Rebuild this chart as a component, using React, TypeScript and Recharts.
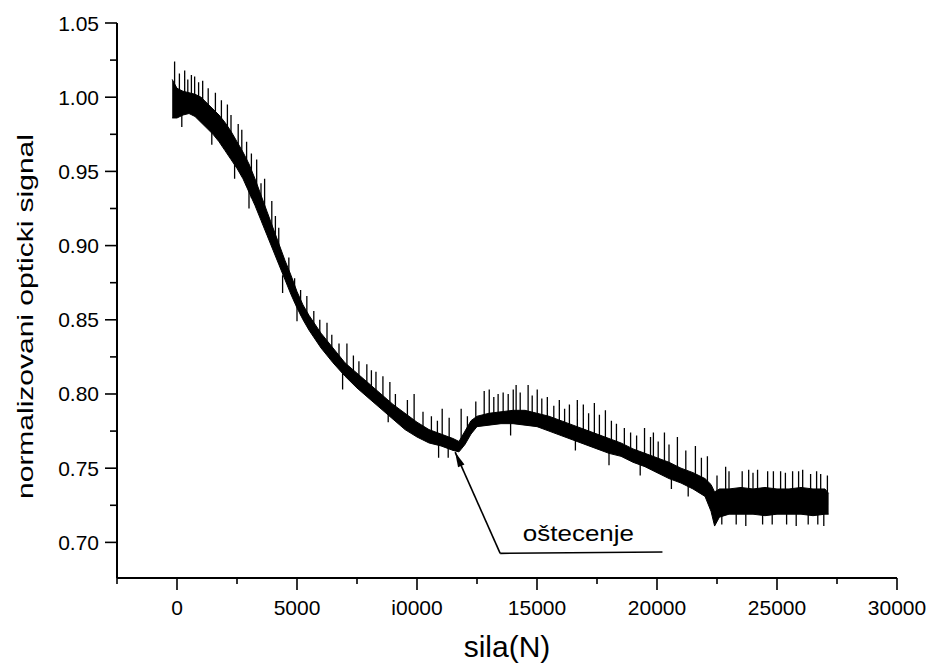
import React from 'react';
import { ComposedChart, Area, Line, XAxis, YAxis, ReferenceLine, ReferenceDot, Label } from 'recharts';

// ---- Signal envelope (core band) ----
const bandForce = [-200, 0, 250, 500, 750, 1000, 1250, 1500, 1750, 2000, 2250, 2500, 2750, 3000, 3250, 3500, 3750, 4000, 4250, 4500, 4750, 5000, 5250, 5500, 6000, 6500, 7000, 7500, 8000, 8500, 9000, 9500, 10000, 10500, 11000, 11500, 11750, 12000, 12250, 12500, 13000, 13500, 14000, 14500, 15000, 15500, 16000, 16500, 17000, 17500, 18000, 18500, 19000, 19500, 20000, 20500, 21000, 21500, 22000, 22250, 22400, 22600, 23000, 23500, 24000, 24500, 25000, 25500, 26000, 26500, 27000, 27150];
const bandLow = [0.986, 0.986, 0.988, 0.989, 0.987, 0.983, 0.979, 0.975, 0.970, 0.964, 0.958, 0.952, 0.945, 0.936, 0.927, 0.917, 0.907, 0.897, 0.887, 0.877, 0.867, 0.858, 0.850, 0.843, 0.831, 0.821, 0.812, 0.804, 0.797, 0.790, 0.783, 0.776, 0.771, 0.767, 0.765, 0.762, 0.761, 0.766, 0.773, 0.778, 0.779, 0.780, 0.780, 0.779, 0.778, 0.775, 0.772, 0.769, 0.766, 0.763, 0.760, 0.758, 0.754, 0.751, 0.747, 0.743, 0.740, 0.736, 0.731, 0.721, 0.711, 0.717, 0.719, 0.719, 0.719, 0.718, 0.719, 0.719, 0.719, 0.718, 0.719, 0.719];
const bandHigh = [1.012, 1.006, 1.004, 1.003, 1.002, 1.000, 0.996, 0.992, 0.988, 0.983, 0.977, 0.970, 0.963, 0.955, 0.945, 0.934, 0.923, 0.912, 0.901, 0.890, 0.880, 0.869, 0.860, 0.853, 0.841, 0.831, 0.821, 0.814, 0.807, 0.800, 0.793, 0.787, 0.781, 0.776, 0.773, 0.770, 0.768, 0.775, 0.782, 0.785, 0.787, 0.788, 0.789, 0.789, 0.787, 0.785, 0.782, 0.779, 0.776, 0.773, 0.770, 0.767, 0.763, 0.760, 0.757, 0.754, 0.750, 0.747, 0.743, 0.739, 0.734, 0.736, 0.736, 0.737, 0.736, 0.737, 0.736, 0.736, 0.737, 0.736, 0.736, 0.733];

// ---- Tall noise spikes ----
const spikeForce = [-100, 200, 320, 735, 1070, 1600, 2100, 2400, 2700, 3320, 3650, 3950, 4240, 4400, 4660, 5410, 5700, 6250, 6750, 7080, 7580, 7910, 8290, 8580, 8870, 9880, 10250, 11050, 11300, 11340, 11840, 12800, 13010, 13380, 13590, 13800, 14010, 14130, 14300, 14630, 15010, 15430, 15930, 16350, 16680, 16930, 17390, 17850, 18000, 18310, 18640, 19480, 19730, 19850, 20310, 20600, 20850, 21600, 22100, 22860, 23300, 23820, 24190, 24400, 24610, 25150, 25400, 25650, 26070, 26300, 26400, 26820, 26950];
const spikeLow = [1.0, 0.980, 0.998, 0.996, 0.992, 0.985, 0.975, 0.945, 0.955, 0.935, 0.925, 0.905, 0.895, 0.868, 0.875, 0.850, 0.845, 0.835, 0.825, 0.818, 0.810, 0.805, 0.800, 0.795, 0.790, 0.778, 0.774, 0.768, 0.757, 0.765, 0.765, 0.782, 0.782, 0.782, 0.783, 0.783, 0.783, 0.783, 0.783, 0.783, 0.782, 0.780, 0.777, 0.775, 0.773, 0.770, 0.768, 0.765, 0.752, 0.763, 0.762, 0.755, 0.755, 0.755, 0.750, 0.736, 0.745, 0.740, 0.735, 0.725, 0.712, 0.725, 0.725, 0.712, 0.725, 0.725, 0.712, 0.725, 0.725, 0.712, 0.725, 0.725, 0.711];
const spikeHigh = [1.024, 0.995, 1.018, 1.014, 1.011, 1.003, 0.995, 0.960, 0.978, 0.958, 0.945, 0.930, 0.912, 0.880, 0.892, 0.866, 0.856, 0.848, 0.834, 0.834, 0.822, 0.820, 0.815, 0.812, 0.808, 0.800, 0.788, 0.790, 0.765, 0.784, 0.790, 0.802, 0.803, 0.800, 0.801, 0.800, 0.803, 0.806, 0.801, 0.806, 0.803, 0.798, 0.796, 0.793, 0.796, 0.793, 0.794, 0.789, 0.765, 0.780, 0.777, 0.777, 0.771, 0.774, 0.774, 0.750, 0.771, 0.765, 0.758, 0.751, 0.725, 0.749, 0.749, 0.725, 0.748, 0.748, 0.725, 0.748, 0.749, 0.725, 0.746, 0.746, 0.725];

// ---- Smaller noise spikes (up and down) ----
const fineForce = [100, 450, 600, 900, 1300, 1450, 1850, 2250, 2550, 2900, 3000, 3100, 3500, 4100, 4900, 5000, 5150, 5950, 6450, 6900, 7350, 8100, 8800, 9100, 9600, 10600, 10850, 10900, 12100, 12450, 13200, 13900, 14800, 15200, 15700, 16150, 16600, 17150, 17600, 18100, 18900, 19150, 19300, 20050, 20500, 21200, 21300, 21850, 22500, 22700, 23000, 23550, 23700, 24000, 24800, 24850, 25350, 25800, 25900, 26650, 26700, 27100];
const fineLow = [0.990, 0.990, 0.990, 0.990, 0.980, 0.968, 0.972, 0.960, 0.955, 0.940, 0.925, 0.932, 0.920, 0.900, 0.862, 0.849, 0.853, 0.836, 0.826, 0.803, 0.810, 0.800, 0.781, 0.786, 0.780, 0.770, 0.768, 0.757, 0.772, 0.780, 0.783, 0.772, 0.782, 0.780, 0.778, 0.775, 0.762, 0.770, 0.768, 0.765, 0.760, 0.757, 0.745, 0.752, 0.748, 0.745, 0.731, 0.740, 0.720, 0.712, 0.725, 0.725, 0.711, 0.725, 0.712, 0.725, 0.725, 0.711, 0.725, 0.725, 0.712, 0.725];
const fineHigh = [1.016, 1.012, 1.015, 1.010, 1.006, 0.980, 0.998, 0.988, 0.982, 0.970, 0.940, 0.962, 0.942, 0.920, 0.878, 0.860, 0.870, 0.850, 0.840, 0.815, 0.826, 0.816, 0.792, 0.800, 0.796, 0.785, 0.782, 0.768, 0.785, 0.795, 0.798, 0.782, 0.799, 0.797, 0.792, 0.790, 0.772, 0.787, 0.786, 0.782, 0.774, 0.772, 0.756, 0.768, 0.766, 0.762, 0.742, 0.757, 0.745, 0.720, 0.748, 0.748, 0.720, 0.747, 0.720, 0.748, 0.747, 0.720, 0.748, 0.748, 0.720, 0.745];

// ---- Axes ----
const xMajorTicks = [0, 5000, 10000, 15000, 20000, 25000, 30000];
const xTickLabels = ['0', '5000', 'i0000', '15000', '20000', '25000', '30000'];
const xMinorTicks = [-2500, 2500, 7500, 12500, 17500, 22500, 27500];
const yMajorTicks = [0.70, 0.75, 0.80, 0.85, 0.90, 0.95, 1.00, 1.05];
const yTickLabels = ['0.70', '0.75', '0.80', '0.85', '0.90', '0.95', '1.00', '1.05'];
const yMinorTicks = [0.725, 0.775, 0.825, 0.875, 0.925, 0.975, 1.025];
const xDomain = [-2500, 30000];
const yDomain = [0.676, 1.05];

const xTitle = 'sila(N)';
const yTitle = 'normalizovani opticki signal';
const annotationText = 'oštecenje';
const arrowTip = { x: 11590, y: 0.7608 };
const arrowCorner = { x: 13466, y: 0.6926 };
const arrowEnd = { x: 20228, y: 0.6935 };
const annotationAnchor = { x: 16725, y: 0.7011 };

const FONT = '"Liberation Sans", Arial, Helvetica, sans-serif';

const bandRows = bandForce.map((x, i) => ({ x, band: [bandLow[i], bandHigh[i]] }));
const toSegments = (xs: number[], lo: number[], hi: number[]) =>
  xs.flatMap((x, i) => [
    { x, s: lo[i] },
    { x, s: hi[i] },
    { x, s: null },
  ]);
const spikeRows = [
  ...toSegments(spikeForce, spikeLow, spikeHigh),
  ...toSegments(fineForce, fineLow, fineHigh),
];

const findIdx = (arr: number[], v: number) => arr.findIndex((a) => Math.abs(a - v) < 1e-6);

const XTick = (props: any) => {
  const { x, y, payload } = props;
  const i = findIdx(xMajorTicks, payload.value);
  const major = i >= 0;
  return (
    <g>
      <line x1={x} x2={x} y1={y} y2={y + (major ? 12 : 6)} stroke="#000" strokeWidth={1.6} />
      {major && (
        <text x={x} y={y + 37} textAnchor="middle" fontSize={21} fontFamily={FONT} fill="#000">
          {xTickLabels[i]}
        </text>
      )}
    </g>
  );
};

const YTick = (props: any) => {
  const { x, y, payload } = props;
  const i = findIdx(yMajorTicks, payload.value);
  const major = i >= 0;
  return (
    <g>
      <line x1={x} x2={x - (major ? 12 : 7)} y1={y} y2={y} stroke="#000" strokeWidth={1.6} />
      {major && (
        <text x={x - 18} y={y + 7.5} textAnchor="end" fontSize={21} fontFamily={FONT} fill="#000">
          {yTickLabels[i]}
        </text>
      )}
    </g>
  );
};

const renderYTitle = (props: any) => {
  const vb = props.viewBox || { x: 0, y: 23, width: 117, height: 555 };
  const cx = vb.x + 33;
  const cy = vb.y + vb.height / 2 + 16;
  return (
    <text
      x={0}
      y={0}
      transform={`translate(${cx},${cy}) rotate(-90) scale(1,0.76)`}
      textAnchor="middle"
      fontSize={30}
      fontFamily={FONT}
      fill="#000"
    >
      {yTitle}
    </text>
  );
};

const renderXTitle = (props: any) => {
  const vb = props.viewBox || { x: 117, y: 578, width: 780, height: 86 };
  return (
    <text
      x={vb.x + vb.width / 2}
      y={vb.y + 79}
      textAnchor="middle"
      fontSize={30}
      fontFamily={FONT}
      fill="#000"
    >
      {xTitle}
    </text>
  );
};

const ArrowShape = (p: any) => {
  const { x1, y1, x2, y2 } = p;
  const ang = Math.atan2(y1 - y2, x1 - x2);
  const L = 15;
  const W = 3.5;
  const bx = x1 - L * Math.cos(ang);
  const by = y1 - L * Math.sin(ang);
  const px = -Math.sin(ang) * W;
  const py = Math.cos(ang) * W;
  return (
    <g>
      <line x1={x1} y1={y1} x2={x2} y2={y2} stroke="#000" strokeWidth={1.6} />
      <polygon points={`${x1},${y1} ${bx + px},${by + py} ${bx - px},${by - py}`} fill="#000" />
    </g>
  );
};

const PlainSegment = (p: any) => (
  <line x1={p.x1} y1={p.y1} x2={p.x2} y2={p.y2} stroke="#000" strokeWidth={1.6} />
);

const AnnotationText = (p: any) => (
  <text
    x={0}
    y={0}
    transform={`translate(${p.cx},${p.cy}) scale(1,0.88)`}
    textAnchor="middle"
    fontSize={26}
    fontFamily={FONT}
    fill="#000"
  >
    {annotationText}
  </text>
);

export default function App() {
  const xTicks = [...xMinorTicks, ...xMajorTicks].sort((a, b) => a - b);
  const yTicks = [...yMinorTicks, ...yMajorTicks].sort((a, b) => a - b);
  return (
    <div style={{ position: 'absolute', left: 0, top: 0, background: '#fff' }}>
      <ComposedChart
        width={928}
        height={664}
        data={bandRows}
        margin={{ top: 23, right: 31, bottom: 0, left: 0 }}
      >
        <XAxis
          dataKey="x"
          type="number"
          domain={xDomain}
          ticks={xTicks}
          interval={0}
          allowDataOverflow
          height={86}
          tickSize={0}
          tickMargin={0}
          tickLine={false}
          axisLine={{ stroke: '#000', strokeWidth: 2 }}
          tick={<XTick />}
        >
          <Label content={renderXTitle} />
        </XAxis>
        <YAxis
          type="number"
          domain={yDomain}
          ticks={yTicks}
          interval={0}
          allowDataOverflow
          width={117}
          tickSize={0}
          tickMargin={0}
          tickLine={false}
          axisLine={{ stroke: '#000', strokeWidth: 2 }}
          tick={<YTick />}
        >
          <Label content={renderYTitle} />
        </YAxis>
        <Area
          dataKey="band"
          type="linear"
          stroke="#000"
          strokeWidth={1}
          fill="#000"
          fillOpacity={1}
          isAnimationActive={false}
        />
        <Line
          data={spikeRows}
          dataKey="s"
          type="linear"
          stroke="#000"
          strokeWidth={1.3}
          dot={false}
          connectNulls={false}
          isAnimationActive={false}
        />
        <ReferenceLine segment={[arrowTip, arrowCorner]} shape={ArrowShape} ifOverflow="visible" />
        <ReferenceLine segment={[arrowCorner, arrowEnd]} shape={PlainSegment} ifOverflow="visible" />
        <ReferenceDot
          x={annotationAnchor.x}
          y={annotationAnchor.y}
          r={0}
          ifOverflow="visible"
          shape={AnnotationText}
        />
      </ComposedChart>
    </div>
  );
}
